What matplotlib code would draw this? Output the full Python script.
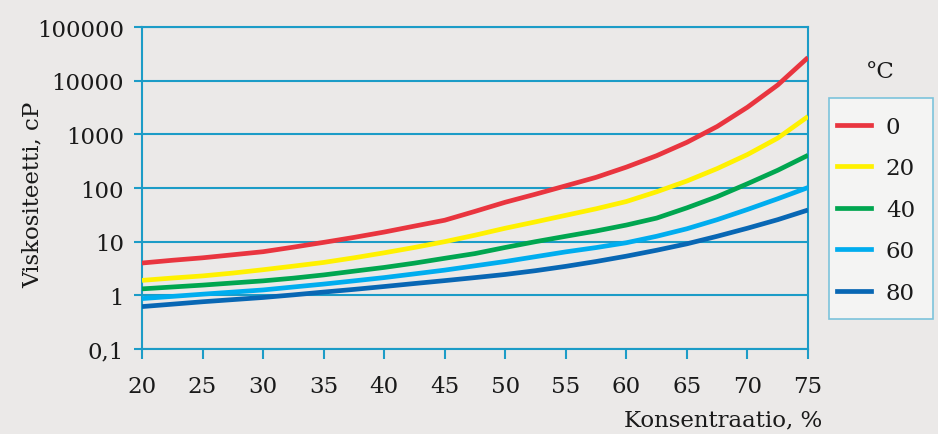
import matplotlib
matplotlib.use("Agg")
import matplotlib.pyplot as plt
from matplotlib.patches import Rectangle
from matplotlib.lines import Line2D

plt.rcParams["font.family"] = ["DejaVu Serif"]

# Concentration (%) and viscosity (cP) for each temperature
konsentraatio = [20, 22.5, 25, 27.5, 30, 32.5, 35, 37.5, 40, 42.5, 45, 47.5,
                 50, 52.5, 55, 57.5, 60, 62.5, 65, 67.5, 70, 72.5, 75]
visk_0 = [4.0, 4.5, 5.0, 5.7, 6.5, 7.9, 9.7, 12.0, 15.1, 19.5, 25.1, 36.7,
          54.3, 76.7, 110, 158, 245, 400, 710, 1400, 3200, 8300, 27000]
visk_20 = [1.9, 2.1, 2.3, 2.6, 3.0, 3.5, 4.1, 5.0, 6.2, 7.8, 10, 13.2,
           17.8, 23.4, 31, 41, 56, 85, 135, 230, 420, 850, 2150]
visk_40 = [1.32, 1.43, 1.55, 1.70, 1.86, 2.09, 2.40, 2.82, 3.31, 3.98, 4.9, 6.0,
           7.8, 10.0, 12.6, 15.8, 20.4, 27.5, 42.7, 69, 120, 214, 407]
visk_60 = [0.87, 0.955, 1.05, 1.15, 1.26, 1.43, 1.62, 1.86, 2.14, 2.51, 2.95, 3.55,
           4.27, 5.25, 6.46, 7.76, 9.55, 12.6, 17.4, 25.7, 39.8, 63, 102]
visk_80 = [0.617, 0.684, 0.759, 0.832, 0.912, 1.02, 1.15, 1.29, 1.46, 1.66, 1.88, 2.14,
           2.45, 2.88, 3.47, 4.27, 5.37, 6.92, 9.12, 12.6, 17.8, 25.7, 38.9]

lampotilat = ["0", "20", "40", "60", "80"]
sarjat = [visk_0, visk_20, visk_40, visk_60, visk_80]
varit = ["#e9353f", "#fff100", "#00a650", "#00adef", "#0867b4"]

x_ticks = [20, 25, 30, 35, 40, 45, 50, 55, 60, 65, 70, 75]
y_ticks = [0.1, 1, 10, 100, 1000, 10000, 100000]
y_labels = ["0,1", "1", "10", "100", "1000", "10000", "100000"]

akseliväri = "#1c9cc7"
tekstiväri = "#1a1a1a"
fs = 16.5

fig = plt.figure(figsize=(9.38, 4.35), dpi=100, facecolor="#ebe9e8")
ax = fig.add_axes([142 / 938, 1 - 350 / 435, 666 / 938, 322 / 435])
ax.set_facecolor("none")

for arvot, vari, t in zip(sarjat, varit, lampotilat):
    ax.plot(konsentraatio, arvot, color=vari, lw=3.4, solid_capstyle="butt",
            solid_joinstyle="round", label=t, zorder=3)

ax.set_yscale("log")
ax.set_xlim(20, 75)
ax.set_ylim(0.1, 100000)
ax.set_xticks(x_ticks)
ax.set_xticklabels([str(v) for v in x_ticks])
ax.set_yticks(y_ticks)
ax.set_yticklabels(y_labels)
ax.yaxis.set_minor_locator(matplotlib.ticker.NullLocator())

ax.grid(axis="y", color=akseliväri, lw=1.5, zorder=1)
for s in ax.spines.values():
    s.set_color(akseliväri)
    s.set_linewidth(1.5)

ax.tick_params(axis="x", direction="out", length=7, width=1.5, color=akseliväri,
               pad=11.5, labelsize=fs, labelcolor=tekstiväri)
ax.tick_params(axis="y", direction="out", length=6, width=1.5, color=akseliväri,
               pad=7, labelsize=fs, labelcolor=tekstiväri)

fig.text(822 / 938, 1 - 420 / 435, "Konsentraatio, %", ha="right", va="center",
         fontsize=fs, color=tekstiväri)
fig.text(33 / 938, 1 - 195 / 435, "Viskositeetti, cP", ha="center", va="center",
         rotation=90, fontsize=fs, color=tekstiväri)

# Legend box with the temperature title above it
fig.patches.append(Rectangle((829 / 938, 1 - 320 / 435), 104 / 938, 221 / 435,
                             transform=fig.transFigure, facecolor="#f4f4f3",
                             edgecolor="#7cc3db", lw=1.2, zorder=0))
fig.text(880 / 938, 1 - 72 / 435, "°C", ha="center", va="center", fontsize=fs, color=tekstiväri)

handles = [Line2D([], [], color=c, lw=3.4) for c in varit]
leg = fig.legend(handles, lampotilat, loc="upper left",
                 bbox_to_anchor=(829 / 938, 1 - 109 / 435), frameon=False,
                 fontsize=fs, handlelength=1.48, handletextpad=0.65,
                 labelspacing=0.85, borderpad=0.35, borderaxespad=0)
for txt in leg.get_texts():
    txt.set_color(tekstiväri)

fig.savefig("out.png", dpi=100, facecolor=fig.get_facecolor())
